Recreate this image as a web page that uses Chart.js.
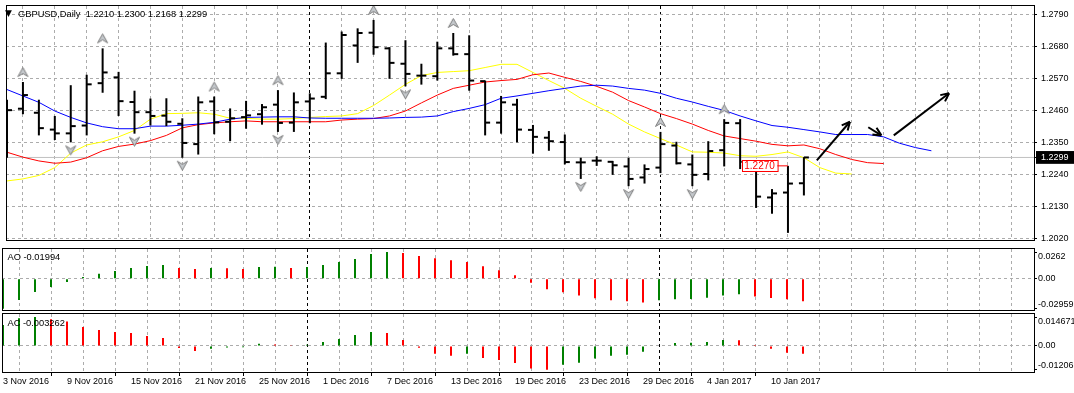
<!DOCTYPE html>
<html>
<head>
<meta charset="utf-8">
<script src="https://cdn.jsdelivr.net/npm/chart.js@4.4.1/dist/chart.umd.min.js"></script>
<style>
  body { margin: 0; background: #fff; }
  #wrap { position: relative; width: 1074px; height: 393px; overflow: hidden; }
  canvas { position: absolute; left: 0; }
</style>
</head>
<body>
<div id="wrap">
  <canvas id="cMain" width="1074" height="247" style="top:0px"></canvas>
  <canvas id="cAO" width="1074" height="65" style="top:247px"></canvas>
  <canvas id="cAC" width="1074" height="81" style="top:312px"></canvas>
</div>
<script>
// daily bars, 3 Nov 2016 .. 12 Jan 2017
const dates = [
  '3 Nov 2016', '4 Nov 2016', '7 Nov 2016', '8 Nov 2016', '9 Nov 2016', '10 Nov 2016', '11 Nov 2016',
  '14 Nov 2016', '15 Nov 2016', '16 Nov 2016', '17 Nov 2016', '18 Nov 2016', '21 Nov 2016', '22 Nov 2016',
  '23 Nov 2016', '24 Nov 2016', '25 Nov 2016', '28 Nov 2016', '29 Nov 2016', '30 Nov 2016', '1 Dec 2016',
  '2 Dec 2016', '5 Dec 2016', '6 Dec 2016', '7 Dec 2016', '8 Dec 2016', '9 Dec 2016', '12 Dec 2016',
  '13 Dec 2016', '14 Dec 2016', '15 Dec 2016', '16 Dec 2016', '19 Dec 2016', '20 Dec 2016', '21 Dec 2016',
  '22 Dec 2016', '23 Dec 2016', '26 Dec 2016', '27 Dec 2016', '28 Dec 2016', '29 Dec 2016', '30 Dec 2016',
  '2 Jan 2017', '3 Jan 2017', '4 Jan 2017', '5 Jan 2017', '6 Jan 2017', '9 Jan 2017', '10 Jan 2017',
  '11 Jan 2017', '12 Jan 2017',
];
const opens = [
  1.2484, 1.2467, 1.2453, 1.2395, 1.2382, 1.2409, 1.2555, 1.2575, 1.2490, 1.2455,
  1.2443, 1.2415, 1.2345, 1.2492, 1.2422, 1.2438, 1.2448, 1.2481, 1.2419, 1.2492,
  1.2508, 1.2589, 1.2685, 1.2729, 1.2675, 1.2622, 1.2581, 1.2579, 1.2675, 1.2655,
  1.2562, 1.2419, 1.2481, 1.2394, 1.2367, 1.2352, 1.2282, 1.2288, 1.2284, 1.2268,
  1.2230, 1.2264, 1.2340, 1.2275, 1.2242, 1.2324, 1.2417, 1.2253, 1.2161, 1.2178, 1.2210,
];
const highs = [
  1.2498, 1.2559, 1.2498, 1.2442, 1.2548, 1.2584, 1.2675, 1.2594, 1.2529, 1.2502,
  1.2503, 1.2434, 1.2509, 1.2509, 1.2468, 1.2494, 1.2483, 1.2531, 1.2523, 1.2520,
  1.2695, 1.2733, 1.2744, 1.2773, 1.2679, 1.2703, 1.2622, 1.2698, 1.2728, 1.2720,
  1.2564, 1.2511, 1.2501, 1.2411, 1.2390, 1.2378, 1.2298, 1.2303, 1.2287, 1.2298,
  1.2275, 1.2387, 1.2353, 1.2309, 1.2355, 1.2431, 1.2431, 1.2270, 1.2190, 1.2270, 1.2300,
];
const lows = [
  1.2298, 1.2448, 1.2375, 1.2359, 1.2351, 1.2375, 1.2522, 1.2442, 1.2381, 1.2409,
  1.2407, 1.2298, 1.2309, 1.2379, 1.2355, 1.2398, 1.2412, 1.2387, 1.2387, 1.2417,
  1.2500, 1.2570, 1.2625, 1.2653, 1.2570, 1.2544, 1.2550, 1.2564, 1.2650, 1.2529,
  1.2375, 1.2381, 1.2351, 1.2312, 1.2322, 1.2275, 1.2225, 1.2270, 1.2239, 1.2200,
  1.2209, 1.2245, 1.2275, 1.2200, 1.2220, 1.2268, 1.2259, 1.2125, 1.2105, 1.2039, 1.2168,
];
const closes = [
  1.2462, 1.2514, 1.2400, 1.2382, 1.2407, 1.2551, 1.2592, 1.2493, 1.2455, 1.2442,
  1.2422, 1.2349, 1.2489, 1.2420, 1.2434, 1.2444, 1.2472, 1.2418, 1.2489, 1.2502,
  1.2589, 1.2721, 1.2728, 1.2679, 1.2625, 1.2587, 1.2581, 1.2675, 1.2655, 1.2564,
  1.2419, 1.2489, 1.2395, 1.2370, 1.2355, 1.2283, 1.2282, 1.2288, 1.2272, 1.2225,
  1.2259, 1.2345, 1.2279, 1.2239, 1.2321, 1.2418, 1.2284, 1.2164, 1.2175, 1.2209, 1.2299,
];
// alligator lines (shifted forward, so longer than the bars)
const lips = [
  1.2218, 1.2225, 1.2237, 1.2264, 1.2314, 1.2342, 1.2353, 1.2370, 1.2392, 1.2431,
  1.2450, 1.2451, 1.2453, 1.2448, 1.2434, 1.2434, 1.2431, 1.2431, 1.2433, 1.2437,
  1.2440, 1.2442, 1.2450, 1.2478, 1.2514, 1.2551, 1.2581, 1.2592, 1.2595, 1.2598,
  1.2609, 1.2620, 1.2620, 1.2592, 1.2564, 1.2537, 1.2503, 1.2475, 1.2448, 1.2414,
  1.2387, 1.2364, 1.2342, 1.2318, 1.2317, 1.2314, 1.2305, 1.2303, 1.2309, 1.2318,
  1.2298, 1.2264, 1.2245, 1.2242,
];
const teeth = [
  1.2317, 1.2300, 1.2287, 1.2279, 1.2283, 1.2298, 1.2322, 1.2337, 1.2345, 1.2357,
  1.2375, 1.2401, 1.2412, 1.2418, 1.2422, 1.2425, 1.2422, 1.2422, 1.2422, 1.2422,
  1.2422, 1.2428, 1.2431, 1.2433, 1.2442, 1.2459, 1.2487, 1.2514, 1.2537, 1.2548,
  1.2559, 1.2564, 1.2568, 1.2584, 1.2590, 1.2575, 1.2561, 1.2544, 1.2524, 1.2495,
  1.2473, 1.2450, 1.2433, 1.2414, 1.2392, 1.2373, 1.2364, 1.2355, 1.2344, 1.2339,
  1.2342, 1.2329, 1.2309, 1.2292, 1.2281, 1.2278,
];
const jaw = [
  1.2533, 1.2511, 1.2489, 1.2459, 1.2437, 1.2418, 1.2405, 1.2398, 1.2398, 1.2407,
  1.2407, 1.2410, 1.2414, 1.2420, 1.2431, 1.2437, 1.2438, 1.2439, 1.2439, 1.2435,
  1.2434, 1.2434, 1.2434, 1.2434, 1.2435, 1.2437, 1.2438, 1.2442, 1.2457, 1.2468,
  1.2481, 1.2503, 1.2511, 1.2520, 1.2529, 1.2537, 1.2545, 1.2548, 1.2545, 1.2537,
  1.2531, 1.2520, 1.2503, 1.2490, 1.2475, 1.2461, 1.2442, 1.2425, 1.2409, 1.2403,
  1.2395, 1.2387, 1.2378, 1.2378, 1.2378, 1.2370, 1.2348, 1.2333, 1.2322,
];
const ao = [
  -0.0296, -0.0210, -0.0131, -0.0082, -0.0033, 0.0016, 0.0049, 0.0075, 0.0105, 0.0124,
  0.0134, 0.0105, 0.0095, 0.0105, 0.0102, 0.0095, 0.0115, 0.0118, 0.0105, 0.0115,
  0.0134, 0.0164, 0.0193, 0.0242, 0.0262, 0.0252, 0.0222, 0.0202, 0.0182, 0.0163,
  0.0123, 0.0083, 0.0033, -0.0040, -0.0103, -0.0133, -0.0166, -0.0192, -0.0212, -0.0222,
  -0.0235, -0.0212, -0.0202, -0.0199, -0.0186, -0.0166, -0.0153, -0.0176, -0.0189, -0.0202,
  -0.0222,
];
const ac = [
  0.0107, 0.0141, 0.0147, 0.0136, 0.0124, 0.0097, 0.0081, 0.0071, 0.0066, 0.0051,
  0.0041, -0.0010, -0.0025, -0.0014, -0.0008, -0.0007, 0.0012, 0.0008, 0.0004, 0.0006,
  0.0020, 0.0036, 0.0056, 0.0071, 0.0066, 0.0031, -0.0009, -0.0039, -0.0049, -0.0039,
  -0.0061, -0.0071, -0.0086, -0.0115, -0.0121, -0.0095, -0.0085, -0.0064, -0.0049, -0.0044,
  -0.0029, -0.0003, 0.0015, 0.0017, 0.0020, 0.0031, 0.0029, 0.0005, -0.0014, -0.0034,
  -0.0039,
];
const upFractals = [1, 6, 13, 17, 23, 28, 41, 45];
const downFractals = [4, 8, 11, 17, 25, 36, 39, 43];
const priceTicks = [1.2020, 1.2130, 1.2240, 1.2350, 1.2460, 1.2570, 1.2680, 1.2790];
const aoTicks = [-0.02959, 0, 0.0262];
const aoTickLabels = ['-0.02959', '0.00', '0.0262'];
const acTicks = [-0.01206, 0, 0.014671];
const acTickLabels = ['-0.01206', '0.00', '0.014671'];
// hand drawn arrows: [x0, price0, x1, price1]
const trendArrows = [
  [50.81, 1.2289, 52.89, 1.2422],
  [54.04, 1.2403, 54.86, 1.2375],
  [55.64, 1.2375, 59.11, 1.2520],
];
const priceMark = { from: 46.1, to: 49.0, price: 1.2270 };

const FONT = "'Liberation Sans', Arial, sans-serif";
const GRID = '#acacac';
const GREEN = '#008000';
const RED = '#ff0000';
const NONE = 'rgba(0,0,0,0)';
const X_MIN = -0.0625, X_MAX = 64.4375;
const TICK_SHIFT = 0.156;
const separators = [20, 42];
const bid = closes[closes.length - 1];

Chart.defaults.font.family = FONT;
Chart.defaults.font.size = 9;
Chart.defaults.color = '#000';
Chart.defaults.animation = false;
Chart.defaults.responsive = false;
Chart.defaults.plugins.legend.display = false;
Chart.defaults.plugins.tooltip.enabled = false;

const pts = arr => arr.map((v, i) => ({ x: i, y: v }));
const upDown = arr => arr.map((v, i) => (i === 0 || v > arr[i - 1]) ? GREEN : RED);
const tv = c => (c && c.tick) ? c.tick.value : NaN;

function fractalImg(up) {
  const c = document.createElement('canvas');
  c.width = 13; c.height = 36;
  const g = c.getContext('2d');
  g.translate(6.5, up ? 8 : 26);
  if (!up) g.rotate(Math.PI);
  g.beginPath();
  g.moveTo(0, -4.5); g.lineTo(5, 4.5); g.lineTo(0, 1.5); g.lineTo(-5, 4.5); g.closePath();
  g.fillStyle = '#c4c8cc'; g.fill();
  g.strokeStyle = '#7c7c7c'; g.lineWidth = 1; g.stroke();
  return c;
}

function xScale(withLabels) {
  return {
    type: 'linear', min: X_MIN, max: X_MAX, offset: false,
    afterBuildTicks: s => { s.ticks = []; for (let v = 0; v <= 64; v += 2) s.ticks.push({ value: v }); },
    afterFit: s => { s.height = withLabels ? 20 : 0; s.paddingLeft = 0; s.paddingRight = 0; },
    grid: {
      color: c => tv(c) === 0 ? NONE : separators.includes(tv(c)) ? '#000' : GRID,
      drawTicks: withLabels,
      tickLength: 3,
      tickColor: c => (tv(c) % 4 === 0 && tv(c) < dates.length) ? '#000' : NONE,
      tickBorderDash: [],
    },
    border: { display: false, dash: [3, 3] },
    ticks: {
      display: withLabels, autoSkip: false, maxRotation: 0, minRotation: 0, align: 'start', padding: 0,
      callback: v => (v % 4 === 0 && v < dates.length) ? dates[v] : '',
    },
  };
}

function subY(ticks, labels, min, max) {
  return {
    type: 'linear', position: 'right', min: min, max: max,
    afterBuildTicks: s => { s.ticks = ticks.map(v => ({ value: v })); },
    afterFit: s => { s.width = 40; s.paddingTop = 0; s.paddingBottom = 0; },
    grid: { color: c => tv(c) === 0 ? GRID : NONE, tickLength: 3, tickColor: '#000', tickBorderDash: [] },
    border: { display: false, dash: [3, 3] },
    ticks: {
      autoSkip: false, padding: 1, font: { size: 9, lineHeight: 0.9 },
      callback: (v, i) => i === 0 ? [labels[i], ''] : i === ticks.length - 1 ? ['', labels[i]] : labels[i],
    },
  };
}

const frame = {
  id: 'frame',
  afterDraw(chart) {
    const { ctx, chartArea: a } = chart;
    ctx.save();
    ctx.strokeStyle = '#000';
    ctx.lineWidth = 1;
    ctx.strokeRect(a.left + 0.5, a.top - 0.5, a.right - a.left, a.bottom - a.top);
    ctx.restore();
  },
};

const caption = (text, x, dy) => ({
  id: 'caption',
  afterDraw(chart) {
    const ctx = chart.ctx;
    ctx.save();
    ctx.font = '9.3px ' + FONT;
    ctx.fillStyle = '#000';
    ctx.textBaseline = 'middle';
    ctx.fillText(text, x, chart.chartArea.top + dy);
    ctx.restore();
  },
});

const header = {
  id: 'header',
  afterDraw(chart) {
    const ctx = chart.ctx;
    const y = chart.chartArea.top + 8;
    ctx.save();
    ctx.fillStyle = '#000';
    ctx.textBaseline = 'middle';
    ctx.font = "9px 'DejaVu Sans'";
    ctx.fillText('\u25BC', 5, y);
    ctx.font = '9.3px ' + FONT;
    const last = closes.length - 1;
    const txt = 'GBPUSD,Daily  ' + [opens[last], highs[last], lows[last], closes[last]].map(v => v.toFixed(4)).join(' ');
    ctx.fillText(txt, 18, y);
    ctx.restore();
  },
};

const marks = {
  id: 'marks',
  afterDatasetsDraw(chart) {
    const ctx = chart.ctx;
    chart.data.datasets.forEach((ds, i) => {
      const el = chart.getDatasetMeta(i).data;
      if (ds.arrowHead) {
        const a = el[0], b = el[el.length - 1];
        const ang = Math.atan2(b.y - a.y, b.x - a.x);
        ctx.save();
        ctx.strokeStyle = '#000';
        ctx.lineWidth = 2;
        ctx.beginPath();
        [-1, 1].forEach(s => {
          ctx.moveTo(b.x, b.y);
          ctx.lineTo(b.x - 9 * Math.cos(ang + s * 0.45), b.y - 9 * Math.sin(ang + s * 0.45));
        });
        ctx.stroke();
        ctx.restore();
      }
      if (ds.priceLabel) {
        const a = el[0];
        ctx.save();
        ctx.font = '10px ' + FONT;
        const w = ctx.measureText(ds.priceLabel).width + 5;
        ctx.fillStyle = '#fff';
        ctx.fillRect(a.x, a.y - 5.5, w, 11);
        ctx.strokeStyle = RED;
        ctx.lineWidth = 1;
        ctx.strokeRect(Math.round(a.x) + 0.5, Math.round(a.y) - 5.5, w, 11);
        ctx.fillStyle = RED;
        ctx.textBaseline = 'middle';
        ctx.fillText(ds.priceLabel, a.x + 2.5, a.y + 0.5);
        ctx.restore();
      }
    });
  },
};

const lineSet = (data, color, order) => ({
  type: 'line', data: data, borderColor: color, borderWidth: 1, pointRadius: 0, tension: 0, order: order,
});

const upImg = fractalImg(true), downImg = fractalImg(false);

new Chart(document.getElementById('cMain'), {
  type: 'line',
  data: {
    datasets: [
      lineSet([{ x: X_MIN - 1, y: bid }, { x: X_MAX + 1, y: bid }], '#c0c0c0', 9),
      lineSet(pts(jaw), '#0000ff', 5),
      lineSet(pts(teeth), '#ff0000', 5),
      lineSet(pts(lips), '#ffff00', 5),
      {
        type: 'bar', data: highs.map((h, i) => ({ x: i, y: [lows[i], h] })),
        backgroundColor: '#000', barThickness: 2, inflateAmount: 0, order: 1,
      },
      {
        type: 'line', showLine: false, data: opens.map((v, i) => ({ x: i - TICK_SHIFT, y: v })),
        pointStyle: 'line', pointRadius: 2.5, pointBorderWidth: 2, pointBorderColor: '#000', order: 1,
      },
      {
        type: 'line', showLine: false, data: closes.map((v, i) => ({ x: i + TICK_SHIFT, y: v })),
        pointStyle: 'line', pointRadius: 2.5, pointBorderWidth: 2, pointBorderColor: '#000', order: 1,
      },
      {
        type: 'line', showLine: false, data: upFractals.map(i => ({ x: i, y: highs[i] })),
        pointStyle: upImg, pointRadius: 3, order: 0,
      },
      {
        type: 'line', showLine: false, data: downFractals.map(i => ({ x: i, y: lows[i] })),
        pointStyle: downImg, pointRadius: 3, order: 0,
      },
      ...trendArrows.map(a => Object.assign(lineSet([{ x: a[0], y: a[1] }, { x: a[2], y: a[3] }], '#000', 0),
        { borderWidth: 2, arrowHead: true })),
      Object.assign(lineSet([{ x: priceMark.from, y: priceMark.price }, { x: priceMark.to, y: priceMark.price }], RED, 0),
        { priceLabel: priceMark.price.toFixed(4) }),
    ],
  },
  options: {
    layout: { padding: { left: 2, right: 0, top: 3, bottom: 1 } },
    scales: {
      x: xScale(false),
      y: {
        type: 'linear', position: 'right', min: 1.2011, max: 1.2821,
        afterBuildTicks: s => { s.ticks = priceTicks.concat([bid]).map(v => ({ value: v })); },
        afterFit: s => { s.width = 40; s.paddingTop = 0; s.paddingBottom = 0; },
        grid: { color: c => tv(c) === bid ? NONE : GRID, tickLength: 3, tickColor: '#000', tickBorderDash: [] },
        border: { display: false, dash: [3, 3] },
        ticks: {
          autoSkip: false, padding: 4,
          callback: v => v.toFixed(4),
          color: c => tv(c) === bid ? '#fff' : '#000',
          showLabelBackdrop: c => tv(c) === bid,
          backdropColor: '#000',
          backdropPadding: { left: 5, right: 6, top: 1, bottom: 1 },
        },
      },
    },
  },
  plugins: [frame, header, marks],
});

new Chart(document.getElementById('cAO'), {
  type: 'bar',
  data: { datasets: [{ data: pts(ao), backgroundColor: upDown(ao), barThickness: 2, inflateAmount: 0 }] },
  options: {
    layout: { padding: { left: 2, right: 0, top: 2, bottom: 1 } },
    scales: { x: xScale(false), y: subY(aoTicks, aoTickLabels, -0.03173, 0.02917) },
  },
  plugins: [frame, caption('AO -0.01994', 7.5, 8.3)],
});

new Chart(document.getElementById('cAC'), {
  type: 'bar',
  data: { datasets: [{ data: pts(ac), backgroundColor: upDown(ac), barThickness: 2, inflateAmount: 0 }] },
  options: {
    layout: { padding: { left: 2, right: 0, top: 2, bottom: 0 } },
    scales: { x: xScale(true), y: subY(acTicks, acTickLabels, -0.01373, 0.01627) },
  },
  plugins: [frame, caption('AC -0.003262', 7.5, 9.3)],
});
</script>
</body>
</html>
